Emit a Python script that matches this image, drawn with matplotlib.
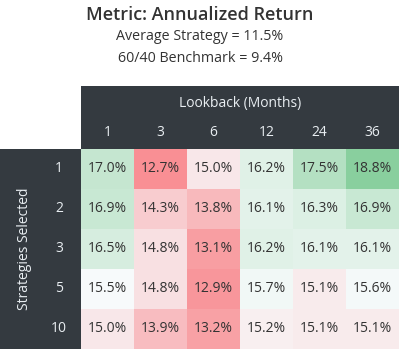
"""Annualized return heatmap by lookback window and number of strategies."""

import matplotlib

matplotlib.use("Agg")

import matplotlib.pyplot as plt
import numpy as np
from matplotlib.colors import LinearSegmentedColormap, TwoSlopeNorm
from matplotlib.patches import Rectangle

lookbacks = ["1", "3", "6", "12", "24", "36"]
strategies = ["1", "2", "3", "5", "10"]
returns = [
    [17.0, 12.7, 15.0, 16.2, 17.5, 18.8],
    [16.9, 14.3, 13.8, 16.1, 16.3, 16.9],
    [16.5, 14.8, 13.1, 16.2, 16.1, 16.1],
    [15.5, 14.8, 12.9, 15.7, 15.1, 15.6],
    [15.0, 13.9, 13.2, 15.2, 15.1, 15.1],
]
title = "Metric: Annualized Return"
subtitle = ["Average Strategy = 11.5%", "60/40 Benchmark = 9.4%"]

DARK = "#343a40"
HEADER_TEXT = "#e9eef2"
TEXT = "#333333"

plt.rcParams["font.family"] = ["Open Sans", "DejaVu Sans"]

W, H = 400, 350
fig = plt.figure(figsize=(W / 100, H / 100), dpi=100)

# heatmap area in pixels
left, right, top, bottom = 81, 399, 149, 349
ax = fig.add_axes([left / W, 1 - bottom / H, (right - left) / W, (bottom - top) / H])

data = np.array(returns)
cmap = LinearSegmentedColormap.from_list("rg", ["#f98f94", "#f8fbfc", "#89cf9e"])
norm = TwoSlopeNorm(vmin=data.min(), vcenter=15.5, vmax=data.max())
ax.imshow(data, cmap=cmap, norm=norm, aspect="auto")
ax.set_axis_off()

for i in range(data.shape[0]):
    for j in range(data.shape[1]):
        ax.text(j, i, f"{data[i, j]:.1f}%", ha="center", va="center",
                fontsize=10, color=TEXT)

col_w = (right - left) / len(lookbacks)
row_h = (bottom - top) / len(strategies)

# column header block
hdr_h = (top - 86) / row_h
ax.add_patch(Rectangle((-0.5, -0.5 - hdr_h), len(lookbacks), hdr_h,
                       facecolor=DARK, edgecolor="none", clip_on=False, zorder=0))
ax.text((len(lookbacks) - 1) / 2, -0.5 - (top - 104) / row_h, "Lookback (Months)",
        ha="center", va="center", fontsize=10, color=HEADER_TEXT, clip_on=False)
for j, lab in enumerate(lookbacks):
    ax.text(j, -0.5 - (top - 133) / row_h, lab, ha="center", va="center",
            fontsize=10, color=HEADER_TEXT, clip_on=False)

# row header block
side_w = left / col_w
ax.add_patch(Rectangle((-0.5 - side_w, -0.5), side_w, len(strategies),
                       facecolor=DARK, edgecolor="none", clip_on=False, zorder=0))
for i, lab in enumerate(strategies):
    ax.text(-0.5 - (left - 59) / col_w, i, lab, ha="center", va="center",
            fontsize=10, color=HEADER_TEXT, clip_on=False)
ax.text(-0.5 - (left - 25) / col_w, (len(strategies) - 1) / 2, "Strategies Selected",
        ha="center", va="center", rotation=90, fontsize=10, color=HEADER_TEXT,
        clip_on=False)

fig.text(0.5, 1 - 15 / H, title, ha="center", va="center", fontsize=13,
         fontweight="semibold", color=TEXT)
for k, line in enumerate(subtitle):
    fig.text(0.5, 1 - (37 + 21 * k) / H, line, ha="center", va="center",
             fontsize=10.3, color=TEXT)

fig.savefig("out.png", dpi=100)
